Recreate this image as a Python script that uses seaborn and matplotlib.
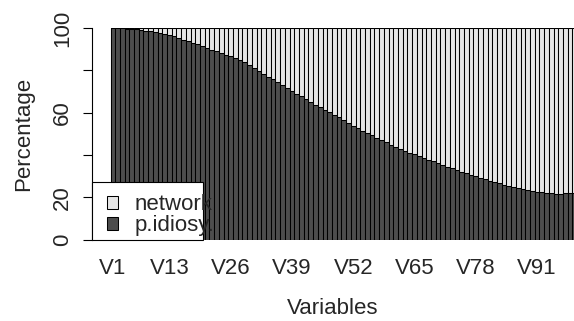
import matplotlib
matplotlib.use("Agg")
import matplotlib.pyplot as plt
import seaborn as sns
import pandas as pd
from matplotlib.patches import Rectangle, Patch

# ---- data -------------------------------------------------------------
variables = ["V%d" % i for i in range(1, 101)]
p_idiosy = [
    100.0, 99.9, 99.8, 99.7, 99.6, 99.4, 99.1, 98.8, 98.4, 98.0,
    97.6, 97.1, 96.6, 96.0, 95.3, 94.5, 93.7, 93.0, 92.2, 91.4,
    90.6, 89.8, 89.0, 88.2, 87.4, 86.6, 85.7, 84.8, 83.7, 82.5,
    81.2, 79.6, 78.3, 77.0, 75.7, 74.4, 73.0, 71.6, 70.3, 69.0,
    67.7, 66.4, 65.1, 63.8, 62.6, 61.4, 60.2, 58.9, 57.7, 56.4,
    55.2, 53.9, 52.7, 51.5, 50.4, 49.2, 48.1, 47.0, 45.9, 44.9,
    43.8, 42.8, 41.9, 41.0, 40.2, 39.4, 38.6, 37.8, 37.0, 36.1,
    35.3, 34.5, 33.7, 32.9, 32.1, 31.4, 30.7, 30.0, 29.2, 28.5,
    27.8, 27.2, 26.6, 26.0, 25.4, 24.9, 24.4, 23.9, 23.4, 23.0,
    22.6, 22.3, 22.0, 21.8, 21.7, 21.7, 21.8, 21.9, 22.1, 22.2,
]
network = [round(100.0 - v, 1) for v in p_idiosy]
shown_ticks = ["V1", "V13", "V26", "V39", "V52", "V65", "V78", "V91"]
series_names = ["network", "p.idiosy."]
y_ticks = [0, 20, 40, 60, 80, 100]
y_ticklabels = ["0", "20", "", "60", "", "100"]

df = pd.DataFrame({"variable": variables,
                   "p_idiosy": p_idiosy,
                   "network": network})
df["total"] = df["p_idiosy"] + df["network"]

# ---- style ------------------------------------------------------------
sns.set_theme(style="white")
plt.rcParams["font.family"] = ["Liberation Sans", "DejaVu Sans"]
FS = 16
LIGHT = "#E6E6E6"
DARK = "#4D4D4D"

W, H = 574, 321
fig = plt.figure(figsize=(W / 100, H / 100), dpi=100)
fig.patch.set_facecolor("white")
ax_left, ax_bottom, ax_top = 92, 239.5, 28
ax = fig.add_axes([ax_left / W, (H - ax_bottom) / H,
                   (W - ax_left) / W, (ax_bottom - ax_top) / H])
ax.set_facecolor("white")

# stacked bars: full height light (network on top), dark p.idiosy. below
sns.barplot(data=df, x="variable", y="total", color=LIGHT, saturation=1,
            edgecolor="black", linewidth=0.75, width=1.0, errorbar=None,
            ax=ax)
sns.barplot(data=df, x="variable", y="p_idiosy", color=DARK, saturation=1,
            edgecolor="black", linewidth=0.75, width=1.0, errorbar=None,
            ax=ax)

# x scale: bar 1 left edge at pixel 110.5, 4.713 px per bar
px_per_bar = 4.713
x0 = -0.5 - (110.5 - ax_left) / px_per_bar
ax.set_xlim(x0, x0 + (W - ax_left) / px_per_bar)
ax.set_ylim(0, 100)

positions = [variables.index(t) for t in shown_ticks]
ax.set_xticks(positions)
ax.set_xticklabels(shown_ticks, fontsize=FS)
ax.tick_params(axis="x", length=0, pad=13)

ax.set_yticks(y_ticks)
ax.set_yticklabels(y_ticklabels, fontsize=FS, rotation=90, va="center")
ax.tick_params(axis="y", left=True, length=6.5, width=0.8, color="black",
               pad=7)

for s in ["top", "right", "bottom"]:
    ax.spines[s].set_visible(False)
ax.spines["left"].set_color("black")
ax.spines["left"].set_linewidth(0.8)
ax.spines["left"].set_bounds(0, 100)

ax.set_xlabel("Variables", fontsize=FS, labelpad=14)
ax.set_ylabel("Percentage", fontsize=FS, labelpad=13)

# ---- legend (R-style box, text overflows frame) -----------------------
box = Rectangle((92 / W, (H - 240) / H), 111 / W, 58 / H,
                transform=fig.transFigure, facecolor="white",
                edgecolor="black", linewidth=0.8, zorder=3)
fig.patches.append(box)
handles = [Patch(facecolor=LIGHT, edgecolor="black", linewidth=0.75),
           Patch(facecolor=DARK, edgecolor="black", linewidth=0.75)]
fig.legend(handles, series_names, loc="lower left",
           bbox_to_anchor=(107 / W, (H - 236.5) / H), frameon=False,
           fontsize=FS, borderpad=0, borderaxespad=0, handlelength=0.5,
           handleheight=0.47, handletextpad=0.75, labelspacing=0.0)

fig.savefig("out.png", dpi=100)
